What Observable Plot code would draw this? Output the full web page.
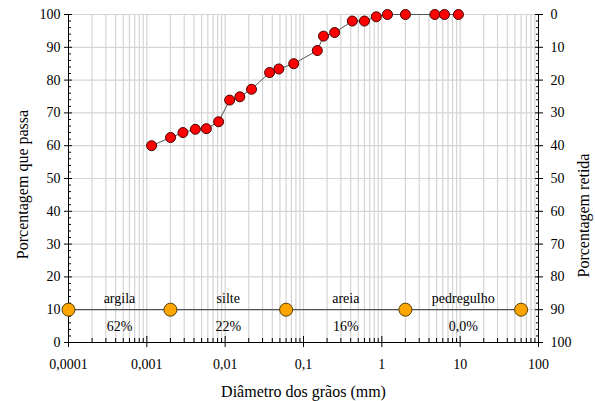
<!DOCTYPE html>
<html><head><meta charset="utf-8">
<script src="https://cdn.jsdelivr.net/npm/d3@7"></script>
<script src="https://cdn.jsdelivr.net/npm/@observablehq/plot@0.6"></script>
<style>body{margin:0;background:#fff} svg text{font-family:"Liberation Serif","DejaVu Serif",serif !important;}</style>
</head><body><div id="chart"></div>
<script>
// Grain-size distribution (curva granulométrica)
const diameters = [0.00115, 0.00201, 0.00289, 0.00416, 0.00575, 0.00825, 0.0114, 0.0154, 0.0217, 0.0369, 0.0484, 0.075, 0.15, 0.18, 0.25, 0.42, 0.6, 0.85, 1.18, 2.0, 4.75, 6.3, 9.5];
const passing   = [60.0, 62.5, 64.0, 65.0, 65.2, 67.3, 73.9, 74.9, 77.2, 82.3, 83.4, 85.0, 89.0, 93.4, 94.5, 98.0, 98.0, 99.3, 100, 100, 100, 100, 100];

// Soil fractions (ABNT limits)
const classBounds  = [0.0001, 0.002, 0.06, 2, 60];
const classNames   = ["argila", "silte", "areia", "pedregulho"];
const classPercent = ["62%", "22%", "16%", "0,0%"];
const boundLevel = 10;

// Axes
const xMajor = [0.0001, 0.001, 0.01, 0.1, 1, 10, 100];
const xTickLabels = ["0,0001", "0,001", "0,01", "0,1", "1", "10", "100"];
const xMinorMult = [2, 3, 4, 5, 6, 7, 8, 9];
const yMajor = [0, 10, 20, 30, 40, 50, 60, 70, 80, 90, 100];
const yMinor = [2, 4, 6, 8, 12, 14, 16, 18, 22, 24, 26, 28, 32, 34, 36, 38, 42, 44, 46, 48, 52, 54, 56, 58, 62, 64, 66, 68, 72, 74, 76, 78, 82, 84, 86, 88, 92, 94, 96, 98];
const yLabelLeft = "Porcentagem que passa";
const yLabelRight = "Porcentagem retida";
const xLabel = "Diâmetro dos grãos (mm)";

const xMinor = xMajor.slice(0, -1).flatMap(d => xMinorMult.map(m => m * d));
const gridX = [...xMinor, ...xMajor.slice(1, -1)];
const gridY = yMajor.slice(1);
const xFmt = new Map(xMajor.map((d, i) => [d, xTickLabels[i]]));

const curve = diameters.map((d, i) => ({d, p: passing[i]}));
const bounds = classBounds.map(d => ({d, p: boundLevel}));
const classes = classNames.map((name, i) => ({
  name, pct: classPercent[i],
  x: Math.sqrt(classBounds[i] * classBounds[i + 1]), y: boundLevel
}));

const serif = "Liberation Serif";
const chart = Plot.plot({
  width: 595, height: 401,
  marginLeft: 68, marginRight: 57, marginTop: 14, marginBottom: 59,
  style: {fontFamily: "'Liberation Serif', serif", fontSize: "14px", color: "#000", background: "#fff"},
  x: {type: "log", domain: [0.0001, 100]},
  y: {domain: [0, 100]},
  marks: [
    Plot.ruleX(gridX, {stroke: "#d4d4d4", strokeWidth: 1.2}),
    Plot.ruleY(gridY, {stroke: "#d4d4d4", strokeWidth: 1.2}),
    Plot.ruleY([0], {stroke: "#000"}),
    Plot.ruleX([0.0001, 100], {stroke: "#000"}),
    // bottom axis
    Plot.axisX({ticks: xMajor, tickFormat: d => xFmt.get(d), tickSize: 11, dy: -6, tickPadding: 12, label: null, fontFamily: serif}),
    Plot.axisX({ticks: xMinor, tickSize: -4, fill: "none", label: null}),
    // left axis
    Plot.axisY({anchor: "left", ticks: yMajor, tickSize: 8, dx: 4, tickPadding: 4, label: null, fontFamily: serif}),
    Plot.axisY({anchor: "left", ticks: yMinor, tickSize: -3, fill: "none", label: null}),
    // right axis (retained)
    Plot.axisY({anchor: "right", ticks: yMajor, tickSize: 8, dx: -4, tickPadding: 8, tickFormat: d => String(100 - d), label: null, fontFamily: serif}),
    Plot.axisY({anchor: "right", ticks: yMinor, tickSize: -3, fill: "none", label: null}),
    // fraction boundaries
    Plot.line(bounds, {x: "d", y: "p", stroke: "#333", strokeWidth: 1}),
    Plot.dot(bounds, {x: "d", y: "p", r: 6.5, fill: "#FFA500", stroke: "#5a4000", strokeWidth: 1}),
    Plot.text(classes, {x: "x", y: "y", text: "name", dy: -11, fontFamily: serif}),
    Plot.text(classes, {x: "x", y: "y", text: "pct", dy: 17, fontFamily: serif}),
    // curve
    Plot.line(curve, {x: "d", y: "p", stroke: "#555", strokeWidth: 1}),
    Plot.dot(curve, {x: "d", y: "p", r: 5, fill: "#ff0000", stroke: "#400", strokeWidth: 1}),
    // axis titles
    Plot.text([yLabelLeft], {frameAnchor: "left", textAnchor: "middle", lineAnchor: "middle", dx: -46, dy: 6, rotate: -90, fontSize: 16, fontFamily: serif}),
    Plot.text([yLabelRight], {frameAnchor: "right", textAnchor: "middle", lineAnchor: "middle", dx: 45, dy: 37, rotate: -90, fontSize: 16, fontFamily: serif}),
    Plot.text([xLabel], {frameAnchor: "bottom", textAnchor: "middle", lineAnchor: "middle", dy: 49, fontSize: 16, fontFamily: serif})
  ]
});
document.getElementById("chart").append(chart);
</script>
</body></html>
